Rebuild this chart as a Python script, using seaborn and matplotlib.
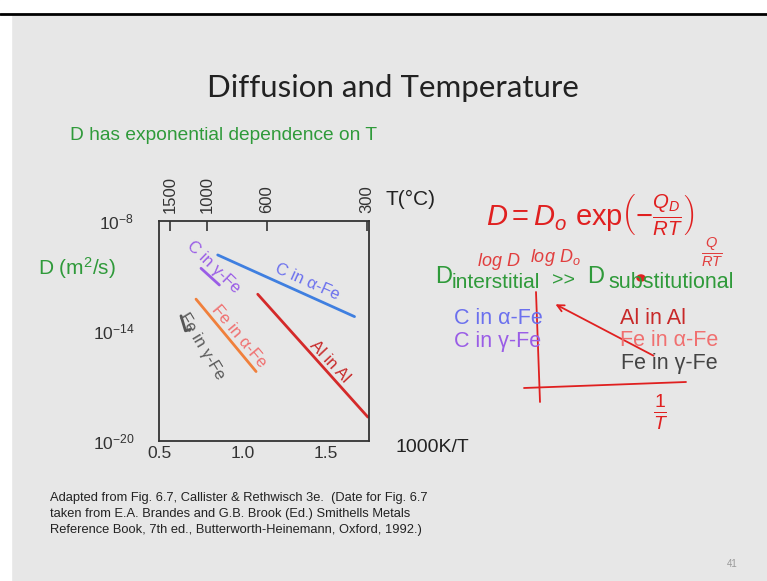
import numpy as np
import pandas as pd
import matplotlib
matplotlib.use('Agg')
import matplotlib.pyplot as plt
import seaborn as sns

# values: x = 1000K/T, y = D (m^2/s)
c_alpha_x = [0.85, 1.67]
c_alpha_D = [1.4e-10, 6.0e-14]
c_gamma_x = [0.75, 0.86]
c_gamma_D = [2.6e-11, 3.2e-12]
fe_alpha_x = [0.72, 1.08]
fe_alpha_D = [5.4e-13, 6.0e-17]
fe_gamma_x = [0.63, 0.657, 0.686]
fe_gamma_D = [6.6e-14, 1.0e-14, 1.2e-14]
al_x = [1.09, 1.75]
al_D = [1.0e-12, 1.95e-19]

systems = ['C in α-Fe', 'C in γ-Fe', 'Fe in α-Fe', 'Fe in γ-Fe', 'Al in Al']
line_colors = ['#3f7fe0', '#9a5de6', '#f0803c', '#555555', '#d42a2a']
text_colors = ['#6b70ee', '#9a5de6', '#f07070', '#5a5a5a', '#c82828']

temps_C = [1500, 1000, 600, 300]
y_ticks = [1e-8, 1e-10, 1e-12, 1e-14, 1e-16, 1e-18, 1e-20]
y_labels = ['10$^{-8}$', '', '', '10$^{-14}$', '', '', '10$^{-20}$']
x_ticks = [0.5, 1.0, 1.5]

footnote = ['Adapted from Fig. 6.7, Callister & Rethwisch 3e.  (Date for Fig. 6.7',
            'taken from E.A. Brandes and G.B. Brook (Ed.) Smithells Metals',
            'Reference Book, 7th ed., Butterworth-Heinemann, Oxford, 1992.)']

rows = []
for name, xs, ds in zip(systems,
                        [c_alpha_x, c_gamma_x, fe_alpha_x, fe_gamma_x, al_x],
                        [c_alpha_D, c_gamma_D, fe_alpha_D, fe_gamma_D, al_D]):
    for i, (a, b) in enumerate(zip(xs, ds)):
        rows.append({'system': name, 'order': i, 'invT': a, 'D': b})
df = pd.DataFrame(rows)

sns.set_style('white')
plt.rcParams['font.family'] = ['Liberation Sans', 'DejaVu Sans']
plt.rcParams['mathtext.fontset'] = 'custom'
plt.rcParams['mathtext.rm'] = 'Liberation Sans'
plt.rcParams['mathtext.it'] = 'Liberation Sans:italic'

W, H = 767, 581
fig = plt.figure(figsize=(W / 100, H / 100), dpi=100)
fig.patch.set_facecolor('#e7e7e7')

# white strip + black rule at top of the slide
fig.add_artist(plt.Rectangle((0, 1 - 13 / H), 1, 13 / H, transform=fig.transFigure,
                             color='white', zorder=0))
fig.add_artist(plt.Rectangle((0, 0), 11 / W, 1, transform=fig.transFigure,
                             color='white', zorder=0))
fig.add_artist(plt.Line2D([0, 1], [1 - 14 / H, 1 - 14 / H], transform=fig.transFigure,
                          color='black', lw=2))


def fx(px):
    return px / W


def fy(py):
    return 1 - py / H


green = '#2f9a3a'
fig.text(fx(393), fy(88), 'Diffusion and Temperature', ha='center', va='center',
         fontsize=22.5, family=['Lato', 'DejaVu Sans'], color='#222222')
fig.text(fx(70), fy(135), 'D has exponential dependence on T', ha='left', va='center',
         fontsize=13.8, family=['Liberation Sans Narrow', 'Liberation Sans'], color=green)

ax = fig.add_axes([fx(159.3), fy(440.7), (368.7 - 159.3) / W, (440.7 - 221) / H])
ax.set_facecolor('#e7e7e7')
sns.lineplot(data=df, x='invT', y='D', hue='system', palette=dict(zip(systems, line_colors)),
             units='system', estimator=None, sort=False, legend=False, lw=2, ax=ax)
ax.set_yscale('log')
ax.set_xlim(0.5, 1.755)
ax.set_ylim(1e-20, 1e-8)
ax.set_xticks(x_ticks)
ax.set_xticklabels(['0.5', '1.0', '1.5'])
ax.set_yticks(y_ticks)
ax.set_yticklabels(y_labels)
ax.yaxis.set_minor_locator(matplotlib.ticker.NullLocator())
ax.set_xlabel('')
ax.set_ylabel('')
ax.tick_params(axis='both', direction='in', length=7, width=1.2, colors='#333333',
               labelsize=12.5, labelcolor='#333333')
ax.tick_params(axis='y', pad=18)
ax.tick_params(axis='x', pad=4)
for s in ax.spines.values():
    s.set_color('#333333')
    s.set_linewidth(1.3)

top = ax.secondary_xaxis('top', functions=(lambda x: x, lambda x: x))
top.set_xticks([1000 / (t + 273) for t in temps_C])
top.set_xticklabels([str(t) for t in temps_C], rotation=90)
top.tick_params(direction='in', length=7, width=1.2, colors='#333333', labelsize=12,
                labelcolor='#333333', pad=6)
top.spines['top'].set_visible(False)

# curve labels
lab_pos = [(1.384, 10 ** -11.31, -24), (0.824, 10 ** -10.49, -44), (0.98, 10 ** -14.31, -50),
           (0.754, 10 ** -14.86, -59), (1.523, 10 ** -15.68, -47)]
for name, c, (lx, ly, rot) in zip(systems, text_colors, lab_pos):
    ax.text(lx, ly, name, color=c, fontsize=12, rotation=rot, rotation_mode='anchor',
            ha='center', va='center')

fig.text(fx(38), fy(268), 'D (m$^{2}$/s)', ha='left', va='center', fontsize=15, color=green)
fig.text(fx(385), fy(199), 'T(°C)', ha='left', va='center', fontsize=15, color='#222222')
fig.text(fx(395), fy(447), '1000K/T', ha='left', va='center', fontsize=14, color='#222222')

# right-hand summary
fig.text(fx(435), fy(277), 'D', ha='left', va='center', fontsize=17, color=green)
fig.text(fx(452), fy(283), 'interstitial', ha='left', va='center', fontsize=15, color=green)
fig.text(fx(552), fy(281), '>>', ha='left', va='center', fontsize=14, color=green)
fig.text(fx(587), fy(277), 'D', ha='left', va='center', fontsize=17, color=green)
fig.text(fx(608), fy(283), 'substitutional', ha='left', va='center', fontsize=15.5, color=green)
right_left = [('C in α-Fe', text_colors[0], 454, 318), ('C in γ-Fe', text_colors[1], 454, 341)]
right_right = [('Al in Al', text_colors[4], 620, 318), ('Fe in α-Fe', text_colors[2], 620, 341),
               ('Fe in γ-Fe', '#444444', 621, 363)]
for t, c, px, py in right_left + right_right:
    fig.text(fx(px), fy(py), t, ha='left', va='center', fontsize=15.5, color=c)

# handwritten annotations
red = '#e02020'
fig.text(fx(486), fy(215), r'$D = D_o\ \exp\!\left(-\frac{Q_D}{RT}\right)$', ha='left',
         va='center', fontsize=21, color=red)
fig.text(fx(478), fy(262), 'log D', ha='left', va='center', fontsize=13, color=red,
         style='italic', alpha=0.85)
fig.text(fx(530), fy(258), 'log D$_o$', ha='left', va='center', fontsize=13, color=red,
         style='italic', alpha=0.85)
fig.text(fx(712), fy(252), r'$\frac{Q}{RT}$', ha='center', va='center', fontsize=15,
         color=red, alpha=0.85)
fig.add_artist(plt.Line2D([fx(536), fx(540)], [fy(292), fy(402)], transform=fig.transFigure,
                          color=red, lw=1.3))
fig.add_artist(plt.Line2D([fx(524), fx(686)], [fy(388), fy(382)], transform=fig.transFigure,
                          color=red, lw=1.3))
fig.add_artist(matplotlib.patches.FancyArrowPatch((fx(656), fy(357)), (fx(553), fy(303)),
                                                  transform=fig.transFigure, color=red,
                                                  arrowstyle='->', mutation_scale=12, lw=1.3))
fig.add_artist(matplotlib.patches.Circle((fx(641), fy(278)), 4 / W, transform=fig.transFigure,
                                         color=red))
fig.text(fx(661), fy(412), r'$\frac{1}{T}$', ha='center', va='center', fontsize=20, color=red)

for i, line in enumerate(footnote):
    fig.text(fx(50), fy(498 + 16 * i), line, ha='left', va='center', fontsize=9.3,
             family=['Liberation Sans Narrow', 'Liberation Sans'], color='#222222')
fig.text(fx(727), fy(564), '41', ha='left', va='center', fontsize=7, color='#999999')

fig.savefig('out.png', dpi=100, facecolor=fig.get_facecolor())
